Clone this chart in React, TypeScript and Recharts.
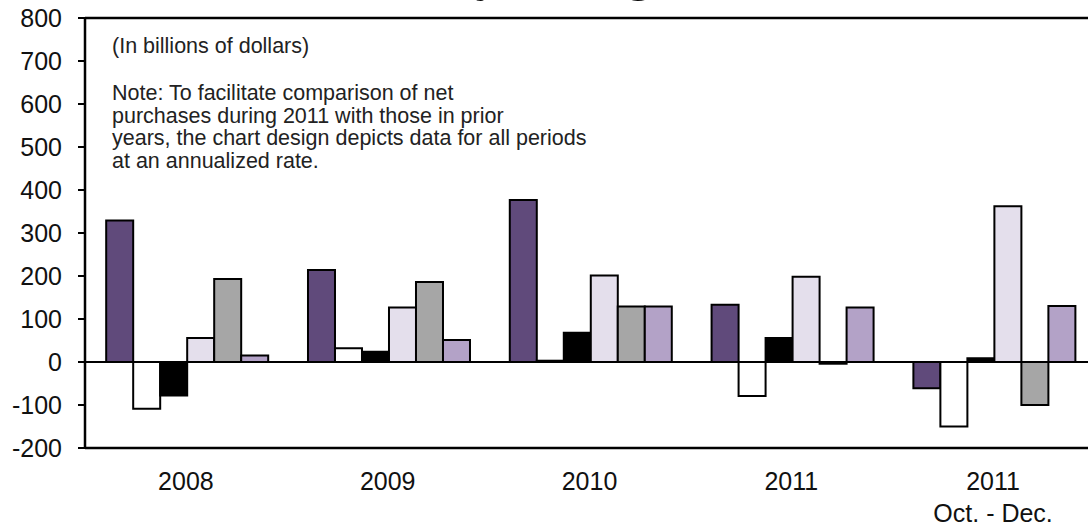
import React from 'react';
import { BarChart, Bar, XAxis, YAxis, ReferenceLine } from 'recharts';

// Categories (x axis); "|" separates label lines
const categories = ['2008', '2009', '2010', '2011', '2011|Oct. - Dec.'];

// Series values, billions of dollars (annualized)
const seriesDarkPurple = [329, 214, 377, 133, -61];
const seriesWhite = [-109, 32, 3, -79, -150];
const seriesBlack = [-78, 24, 68, 56, 9];
const seriesLightLavender = [56, 127, 201, 198, 362];
const seriesGray = [193, 186, 129, -4, -100];
const seriesLavender = [15, 51, 129, 127, 130];

const yTicks = [-200, -100, 0, 100, 200, 300, 400, 500, 600, 700, 800];

const unitNote = '(In billions of dollars)';
const noteLines = [
  'Note: To facilitate comparison of net',
  'purchases during 2011 with those in prior',
  'years, the chart design depicts data for all periods',
  'at an annualized rate.',
];

const titleText = 'Net Purchases by Foreign Area, 2008–2011';

const seriesDefs = [
  { key: 's1', name: 'Series 1', values: seriesDarkPurple, fill: '#604a7b' },
  { key: 's2', name: 'Series 2', values: seriesWhite, fill: '#ffffff' },
  { key: 's3', name: 'Series 3', values: seriesBlack, fill: '#000000' },
  { key: 's4', name: 'Series 4', values: seriesLightLavender, fill: '#e4dfec' },
  { key: 's5', name: 'Series 5', values: seriesGray, fill: '#a6a6a6' },
  { key: 's6', name: 'Series 6', values: seriesLavender, fill: '#b3a2c7' },
];

const data = categories.map((c, i) => {
  const row: Record<string, string | number> = { name: c };
  seriesDefs.forEach((s) => {
    row[s.key] = s.values[i];
  });
  return row;
});

const FONT = '"Liberation Sans", Arial, Helvetica, sans-serif';

const XTick = (props: any) => {
  const { x, y, payload } = props;
  const lines = String(payload.value).split('|');
  return (
    <g>
      {lines.map((l, i) => (
        <text
          key={i}
          x={x}
          y={y + 42 + i * 32}
          textAnchor="middle"
          fontFamily={FONT}
          fontSize={25}
          fill="#111"
        >
          {l}
        </text>
      ))}
    </g>
  );
};

export default function App() {
  return (
    <div style={{ position: 'relative', width: 1088, height: 527, overflow: 'hidden', background: '#fff' }}>
      <style>{'body{margin:0;}'}</style>
      <BarChart
        width={1102}
        height={527}
        data={data}
        margin={{ top: 18, right: 8, bottom: 19, left: 0 }}
        barGap={0}
        barCategoryGap="10.5%"
      >
        <XAxis
          dataKey="name"
          tick={<XTick />}
          tickLine={false}
          tickSize={0}
          tickMargin={0}
          height={60}
          axisLine={{ stroke: '#000', strokeWidth: 2.5 }}
          interval={0}
        />
        <YAxis
          domain={[-200, 800]}
          ticks={yTicks}
          width={85}
          tickSize={7}
          tickMargin={16}
          interval={0}
          axisLine={{ stroke: '#000', strokeWidth: 2.5 }}
          tickLine={{ stroke: '#000', strokeWidth: 2 }}
          tick={{ fontFamily: FONT, fontSize: 25, fill: '#111' }}
        />
        <ReferenceLine y={800} stroke="#000" strokeWidth={2.5} ifOverflow="visible" />
        <ReferenceLine y={0} stroke="#000" strokeWidth={2} />
        {seriesDefs.map((s) => (
          <Bar
            key={s.key}
            dataKey={s.key}
            name={s.name}
            fill={s.fill}
            stroke="#000"
            strokeWidth={2}
            isAnimationActive={false}
          />
        ))}
      </BarChart>
      <svg
        width={1088}
        height={527}
        style={{ position: 'absolute', left: 0, top: 0, pointerEvents: 'none' }}
      >
        <text
          x={132}
          y={-10}
          textAnchor="start"
          fontFamily='"Liberation Serif", "Times New Roman", serif'
          fontWeight="bold"
          fontSize={50}
          fill="#000"
        >
          {titleText}
        </text>
        <text x={112} y={53} fontFamily={FONT} fontSize={21.5} fill="#222">
          {unitNote}
        </text>
        {noteLines.map((l, i) => (
          <text key={i} x={112} y={100 + i * 22.5} fontFamily={FONT} fontSize={21.5} fill="#222">
            {l}
          </text>
        ))}
      </svg>
    </div>
  );
}
